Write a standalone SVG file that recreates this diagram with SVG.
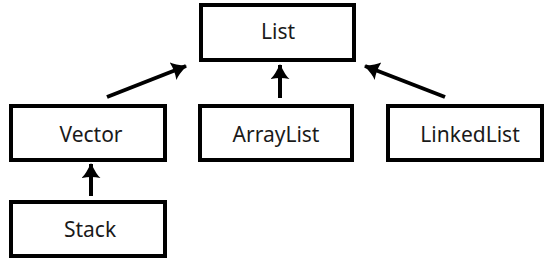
<svg xmlns="http://www.w3.org/2000/svg" width="548" height="265" viewBox="0 0 548 265">
<style>
.box{fill:#fff;stroke:#000;stroke-width:4}
.lbl{font-family:"Noto Sans","Open Sans",sans-serif;font-size:21px;fill:#1a1a1a;text-anchor:middle}
.edge{stroke:#000;stroke-width:4;fill:none;marker-end:url(#ah)}
</style>
<defs>
<marker id="ah" markerUnits="userSpaceOnUse" viewBox="0 0 15 19" refX="14" refY="9.5" markerWidth="15" markerHeight="19" orient="auto">
<path d="M0,0 Q3,4 15,9.5 Q3,15 0,19 Q2,9.5 0,0 Z" fill="#000"/>
</marker>
</defs>
<rect width="548" height="265" fill="#fff"/>
<g id="connectors">
<line class="edge" x1="107" y1="97" x2="186" y2="66"/>
<line class="edge" x1="280" y1="98" x2="280" y2="65"/>
<line class="edge" x1="445" y1="97" x2="365" y2="66"/>
<line class="edge" x1="91" y1="196" x2="91" y2="164"/>
</g>
<g id="List"><rect class="box" x="201" y="5" width="153" height="55"/><text class="lbl" x="278" y="39">List</text></g>
<g id="Vector"><rect class="box" x="11" y="106" width="154" height="54"/><text class="lbl" x="91" y="142">Vector</text></g>
<g id="ArrayList"><rect class="box" x="200" y="106" width="152" height="54"/><text class="lbl" x="276" y="142">ArrayList</text></g>
<g id="LinkedList"><rect class="box" x="388" y="106" width="154" height="54"/><text class="lbl" x="470" y="142">LinkedList</text></g>
<g id="Stack"><rect class="box" x="11" y="202" width="154" height="54"/><text class="lbl" x="90" y="237">Stack</text></g>
</svg>
